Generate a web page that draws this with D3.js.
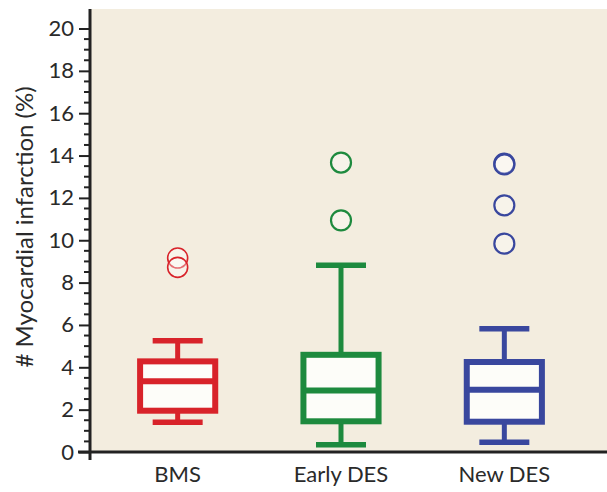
<!DOCTYPE html>
<html>
<head>
<meta charset="utf-8">
<script src="https://cdn.jsdelivr.net/npm/d3@7"></script>
<style>
  html, body { margin: 0; padding: 0; background: #ffffff; }
  svg { display: block; }
</style>
</head>
<body>
<svg id="chart" width="607" height="492"></svg>
<script>
// Myocardial infarction rates by stent type
const categories = ["BMS", "Early DES", "New DES"];
const whiskerLow = [1.40, 0.34, 0.46];
const q1 = [1.95, 1.45, 1.43];
const median = [3.34, 2.91, 2.94];
const q3 = [4.28, 4.59, 4.25];
const whiskerHigh = [5.25, 8.82, 5.82];
const outliers = [[9.16, 8.72], [13.67, 10.94], [13.62, 13.58, 11.65, 9.84]];
const colors = ["#d8232a", "#1d8a3e", "#39479e"];
const yTicks = [0, 2, 4, 6, 8, 10, 12, 14, 16, 18, 20];

const svg = d3.select("#chart");
const W = 607, H = 492;
const x0 = 90, yBase = 452, yTop = 9;

const y = d3.scaleLinear().domain([0, 20]).range([452, 28.5]);
const x = d3.scaleBand().domain(categories).range([96, 586])
  .paddingInner(0.54).paddingOuter(0.27);
const fontFam = "Lato, 'Open Sans', sans-serif";

// plot background
svg.append("rect")
  .attr("x", x0).attr("y", yTop)
  .attr("width", W - x0).attr("height", yBase - yTop)
  .attr("fill", "#f3eddf");

// minor ticks every 0.5
const minor = d3.range(0, 20.01, 0.5).filter(v => Math.abs(v % 2) > 1e-6);
svg.append("g").selectAll("line").data(minor).join("line")
  .attr("x1", x0 - 6).attr("x2", x0)
  .attr("y1", d => y(d)).attr("y2", d => y(d))
  .attr("stroke", "#222").attr("stroke-width", 2);

// major y axis
const yAxis = d3.axisLeft(y).tickValues(yTicks).tickSize(11).tickPadding(5).tickFormat(d3.format("d"));
const gy = svg.append("g").attr("transform", `translate(${x0},0)`).call(yAxis);
gy.select(".domain").remove();
gy.selectAll(".tick line").attr("stroke", "#222").attr("stroke-width", 2);
gy.selectAll(".tick text")
  .attr("fill", "#2a2a2a")
  .style("font-family", fontFam).style("font-size", "22px");

// axis lines
svg.append("line").attr("x1", x0).attr("x2", x0).attr("y1", yTop).attr("y2", yBase + 8)
  .attr("stroke", "#222").attr("stroke-width", 3);
svg.append("line").attr("x1", x0 - 12).attr("x2", W).attr("y1", yBase).attr("y2", yBase)
  .attr("stroke", "#222").attr("stroke-width", 3);

// x axis labels
const xAxis = d3.axisBottom(x).tickSize(0).tickPadding(14);
const gx = svg.append("g").attr("transform", `translate(0,${yBase})`).call(xAxis);
gx.select(".domain").remove();
gx.selectAll(".tick text")
  .attr("fill", "#2a2a2a")
  .style("font-family", fontFam).style("font-size", "22px");

// y axis title
svg.append("text")
  .attr("transform", `translate(33,${227}) rotate(-90)`)
  .attr("text-anchor", "middle")
  .attr("fill", "#2a2a2a")
  .style("font-family", fontFam).style("font-size", "24px")
  .text("# Myocardial infarction (%)");

// box plots
const capW = 50;
categories.forEach((c, i) => {
  const g = svg.append("g");
  const cx = x(c) + x.bandwidth() / 2;
  const col = colors[i];
  // whiskers
  g.append("line").attr("x1", cx).attr("x2", cx)
    .attr("y1", y(whiskerHigh[i])).attr("y2", y(q3[i]))
    .attr("stroke", col).attr("stroke-width", 5);
  g.append("line").attr("x1", cx).attr("x2", cx)
    .attr("y1", y(q1[i])).attr("y2", y(whiskerLow[i]))
    .attr("stroke", col).attr("stroke-width", 5);
  // caps
  [whiskerHigh[i], whiskerLow[i]].forEach(v => {
    g.append("line").attr("x1", cx - capW / 2).attr("x2", cx + capW / 2)
      .attr("y1", y(v)).attr("y2", y(v))
      .attr("stroke", col).attr("stroke-width", 5.5);
  });
  // box
  g.append("rect")
    .attr("x", x(c)).attr("width", x.bandwidth())
    .attr("y", y(q3[i])).attr("height", y(q1[i]) - y(q3[i]))
    .attr("fill", "#fdfdf9").attr("stroke", col).attr("stroke-width", 6);
  // median
  g.append("line").attr("x1", x(c)).attr("x2", x(c) + x.bandwidth())
    .attr("y1", y(median[i])).attr("y2", y(median[i]))
    .attr("stroke", col).attr("stroke-width", 6);
  // outliers
  g.selectAll("circle").data(outliers[i]).join("circle")
    .attr("cx", cx).attr("cy", d => y(d)).attr("r", 10)
    .attr("fill", "rgba(255,255,255,0.35)")
    .attr("stroke", col).attr("stroke-width", i === 0 ? 1.6 : 2.2);
});
</script>
</body>
</html>
